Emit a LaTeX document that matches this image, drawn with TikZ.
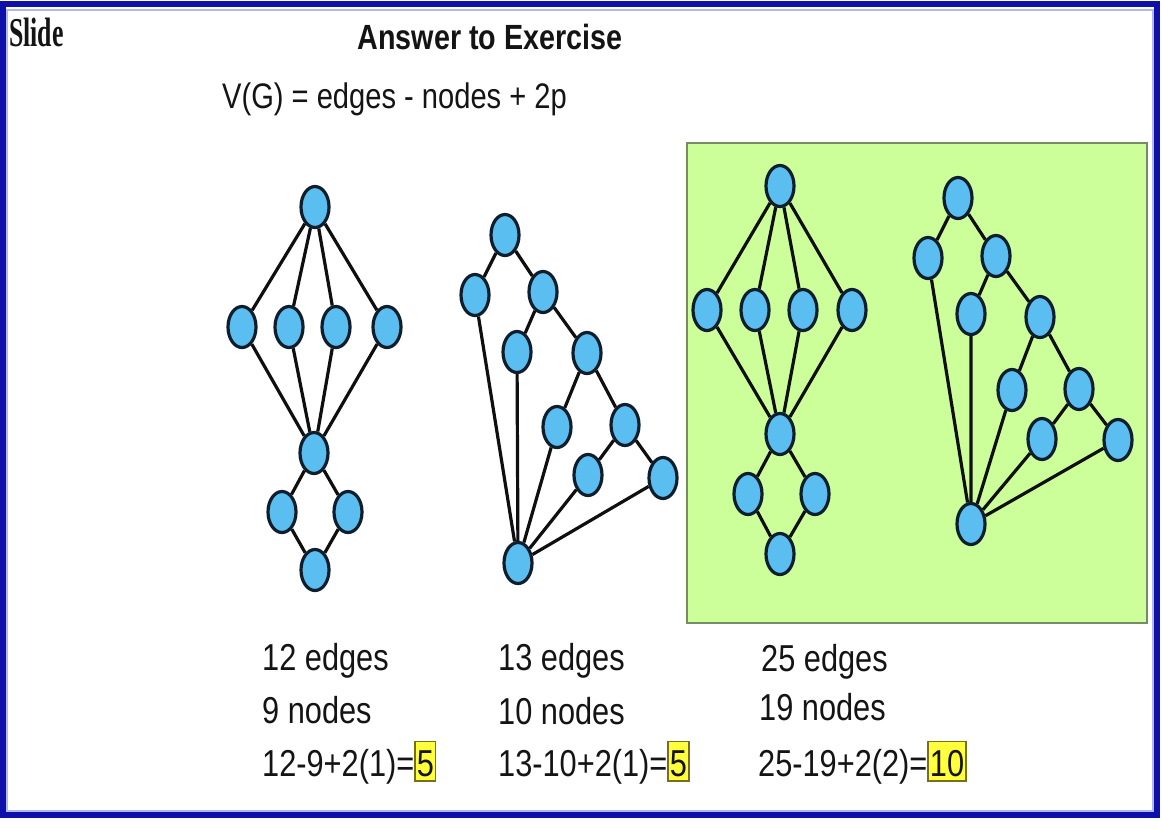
\documentclass[tikz,border=0pt]{standalone}
\usepackage{fontspec}
\setmainfont{Liberation Sans}[FakeStretch=0.82]
\newfontfamily\slidefont{Liberation Serif}[FakeStretch=0.63]
\usepackage{xcolor}
\usepackage{tikz}
\usetikzlibrary{shapes.geometric}
\definecolor{frameblue}{RGB}{15,15,170}
\definecolor{framelight}{RGB}{175,185,240}
\definecolor{panelgreen}{RGB}{204,255,153}
\definecolor{paneledge}{RGB}{120,140,100}
\definecolor{nodeblue}{RGB}{90,190,240}
\definecolor{nodeedge}{RGB}{15,30,45}
\definecolor{linkblack}{RGB}{15,15,15}
\definecolor{inkgray}{RGB}{20,20,20}
\definecolor{hifill}{RGB}{255,255,60}
\definecolor{hiline}{RGB}{120,110,30}
\newcommand{\hibox}[1]{{\setlength{\fboxsep}{1pt}\setlength{\fboxrule}{1.5pt}\fcolorbox{hiline}{hifill}{\rule[-3pt]{0pt}{36pt}#1}}}

\begin{document}
\begin{tikzpicture}[x=1pt,y=-1pt,
		vert/.style={ellipse, draw=nodeedge, fill=nodeblue, line width=3.2pt, minimum width=28pt, minimum height=41pt, inner sep=0pt},
		link/.style={line width=3.2pt, draw=linkblack},
		txt/.style={anchor=base west, inner sep=0pt, text=inkgray, font=\fontsize{37.5}{44}\selectfont}]
	        \useasboundingbox (0,0) rectangle (1162,830);
	        \fill[white] (0,0) rectangle (1162,830);
	        \draw[framelight, line width=2pt] (7,10) rectangle (1153,811);
	        \draw[frameblue, line width=6pt] (3,4) rectangle (1157,815);
	        \draw[paneledge, fill=panelgreen, line width=2pt] (687,143) rectangle (1147,623);
	        \node (slide) [anchor=base west, inner sep=0pt, text=inkgray] at (9,46) {\slidefont\bfseries\fontsize{41}{41}\selectfont Slide};
	        \node (title) [anchor=base, inner sep=0pt, text=inkgray] at (490,49) {\bfseries\fontsize{35}{35}\selectfont Answer to Exercise};
	        \node (formula) [anchor=base west, inner sep=0pt, text=inkgray] at (222,108) {\fontsize{35.5}{35.5}\selectfont V(G) = edges - nodes + 2p};
	        \node[vert] (t1) at (315,207) {};
	        \node[vert] (m1a) at (242,327) {};
	        \node[vert] (m1b) at (289,327) {};
	        \node[vert] (m1c) at (336,327) {};
	        \node[vert] (m1d) at (387,327) {};
	        \node[vert] (h1) at (314,453) {};
	        \node[vert] (l1a) at (282,512) {};
	        \node[vert] (l1b) at (348,512) {};
	        \node[vert] (b1) at (315,570) {};
	        \draw[link] (t1) -- (m1a) (t1) -- (m1b) (t1) -- (m1c) (t1) -- (m1d);
	        \draw[link] (m1a) -- (h1) (m1b) -- (h1) (m1c) -- (h1) (m1d) -- (h1);
	        \draw[link] (h1) -- (l1a) (h1) -- (l1b);
	        \draw[link] (l1a) -- (b1) (l1b) -- (b1);
	        \node[vert] (a2) at (505,235) {};
	        \node[vert] (b2) at (475,295) {};
	        \node[vert] (c2) at (543,292) {};
	        \node[vert] (d2) at (517,352) {};
	        \node[vert] (e2) at (587,353) {};
	        \node[vert] (f2) at (557,427) {};
	        \node[vert] (g2) at (625,425) {};
	        \node[vert] (h2) at (588,475) {};
	        \node[vert] (i2) at (663,478) {};
	        \node[vert] (j2) at (518,563) {};
	        \draw[link] (a2) -- (b2) (a2) -- (c2);
	        \draw[link] (c2) -- (d2) (c2) -- (e2);
	        \draw[link] (e2) -- (f2) (e2) -- (g2);
	        \draw[link] (g2) -- (h2) (g2) -- (i2);
	        \draw[link] (b2) -- (j2) (d2) -- (j2) (f2) -- (j2) (h2) -- (j2) (i2) -- (j2);
	        \node[vert] (t3) at (780,186) {};
	        \node[vert] (m3a) at (707,310) {};
	        \node[vert] (m3b) at (755,310) {};
	        \node[vert] (m3c) at (803,310) {};
	        \node[vert] (m3d) at (852,310) {};
	        \node[vert] (h3) at (780,434) {};
	        \node[vert] (l3a) at (748,494) {};
	        \node[vert] (l3b) at (815,494) {};
	        \node[vert] (b3) at (780,554) {};
	        \draw[link] (t3) -- (m3a) (t3) -- (m3b) (t3) -- (m3c) (t3) -- (m3d);
	        \draw[link] (m3a) -- (h3) (m3b) -- (h3) (m3c) -- (h3) (m3d) -- (h3);
	        \draw[link] (h3) -- (l3a) (h3) -- (l3b);
	        \draw[link] (l3a) -- (b3) (l3b) -- (b3);
	        \node[vert] (a4) at (958,198) {};
	        \node[vert] (b4) at (928,258) {};
	        \node[vert] (c4) at (996,256) {};
	        \node[vert] (d4) at (971,314) {};
	        \node[vert] (e4) at (1040,317) {};
	        \node[vert] (f4) at (1012,390) {};
	        \node[vert] (g4) at (1079,389) {};
	        \node[vert] (h4) at (1042,439) {};
	        \node[vert] (i4) at (1118,440) {};
	        \node[vert] (j4) at (971,524) {};
	        \draw[link] (a4) -- (b4) (a4) -- (c4);
	        \draw[link] (c4) -- (d4) (c4) -- (e4);
	        \draw[link] (e4) -- (f4) (e4) -- (g4);
	        \draw[link] (g4) -- (h4) (g4) -- (i4);
	        \draw[link] (b4) -- (j4) (d4) -- (j4) (f4) -- (j4) (h4) -- (j4) (i4) -- (j4);
	        \node[txt] (edges1) at (262,670) {12 edges};
	        \node[txt] (nodes1) at (262,723) {9 nodes};
	        \node[txt] (sum1) at (262,776) {12-9+2(1)=\hibox{5}};
	        \node[txt] (edges2) at (498,670) {13 edges};
	        \node[txt] (nodes2) at (498,724) {10 nodes};
	        \node[txt] (sum2) at (498,776) {13-10+2(1)=\hibox{5}};
	        \node[txt] (edges3) at (761,671) {25 edges};
	        \node[txt] (nodes3) at (759,720) {19 nodes};
	        \node[txt] (sum3) at (758,776) {25-19+2(2)=\hibox{10}};
	     \end{tikzpicture}
\end{document}
